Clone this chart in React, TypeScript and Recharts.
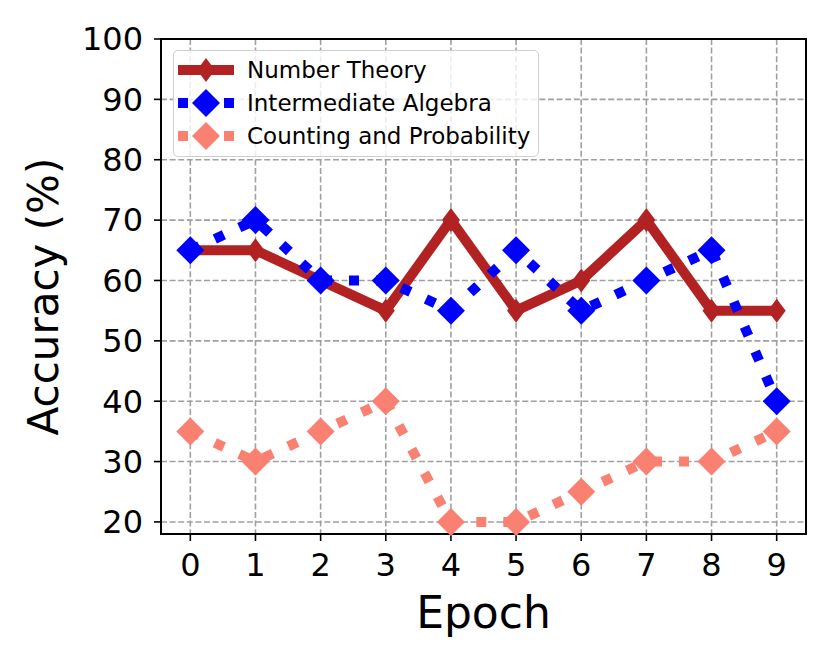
import React from "react";
import {
  CartesianGrid,
  Line,
  LineChart,
  ReferenceArea,
  XAxis,
  YAxis,
} from "recharts";

// accuracy per epoch
const EPOCHS = [0, 1, 2, 3, 4, 5, 6, 7, 8, 9];
const NUMBER_THEORY = [65, 65, 60, 55, 70, 55, 60, 70, 55, 55];
const INTERMEDIATE_ALGEBRA = [65, 70, 60, 60, 55, 65, 55, 60, 65, 40];
const COUNTING_PROBABILITY = [35, 30, 35, 40, 20, 20, 25, 30, 30, 35];

const X_TICKS = [0, 1, 2, 3, 4, 5, 6, 7, 8, 9];
const Y_TICKS = [20, 30, 40, 50, 60, 70, 80, 90, 100];

const FONT = "'DejaVu Sans', Verdana, sans-serif";
const LINE_W = 10;
const DOTTED = "10 17";

type Marker = "thin" | "diamond";

const SERIES: {
  key: string;
  name: string;
  color: string;
  dash?: string;
  marker: Marker;
}[] = [
  { key: "nt", name: "Number Theory", color: "#B22222", marker: "thin" },
  { key: "ia", name: "Intermediate Algebra", color: "#0000FF", dash: DOTTED, marker: "diamond" },
  { key: "cp", name: "Counting and Probability", color: "#FA8072", dash: DOTTED, marker: "diamond" },
];

const data = EPOCHS.map((e, i) => ({
  epoch: e,
  nt: NUMBER_THEORY[i],
  ia: INTERMEDIATE_ALGEBRA[i],
  cp: COUNTING_PROBABILITY[i],
}));

function markerPath(kind: Marker, cx: number, cy: number) {
  // matplotlib 'd' is a narrow diamond, 'D' a square turned 45 degrees
  const hw = kind === "thin" ? 9 : 14;
  const hh = kind === "thin" ? 12 : 14;
  return `M${cx},${cy - hh}L${cx + hw},${cy}L${cx},${cy + hh}L${cx - hw},${cy}Z`;
}

const makeDot = (kind: Marker, color: string) => (props: any) => {
  const { cx, cy, index } = props;
  if (cx == null || cy == null) return <g key={index} />;
  return <path key={index} d={markerPath(kind, cx, cy)} fill={color} stroke="none" />;
};

function LegendBox() {
  return (
    <div
      style={{
        position: "absolute",
        left: 173,
        top: 50,
        width: 366,
        height: 107,
        boxSizing: "border-box",
        border: "1.5px solid #d0d0d0",
        borderRadius: 5,
        background: "rgba(255,255,255,0.8)",
        fontFamily: FONT,
        fontSize: 23,
        color: "#000",
      }}
    >
      {SERIES.map((s, i) => (
        <div
          key={s.key}
          style={{
            position: "absolute",
            left: 0,
            top: 19 + i * 33 - 14,
            height: 28,
            display: "flex",
            alignItems: "center",
          }}
        >
          <svg width={64} height={28} style={{ marginLeft: 3 }}>
            {/* short handle: a dot at each end with the marker in between */}
            <line
              x1={1}
              y1={14}
              x2={57}
              y2={14}
              stroke={s.color}
              strokeWidth={LINE_W}
              strokeDasharray={s.dash ? "10 13" : undefined}
            />
            <path d={markerPath(s.marker, 29, 14)} fill={s.color} />
          </svg>
          <span style={{ marginLeft: 6, whiteSpace: "nowrap" }}>{s.name}</span>
        </div>
      ))}
    </div>
  );
}

export default function App() {
  return (
    <div style={{ position: "absolute", left: 0, top: 0, width: 830, height: 664, background: "#fff" }}>
      <LineChart
        width={830}
        height={664}
        data={data}
        margin={{ top: 39, right: 24, bottom: 0, left: 0 }}
      >
        <CartesianGrid stroke="#a0a0a0" strokeWidth={1.6} strokeDasharray="6 2.6" />
        <ReferenceArea
          x1={-0.45}
          x2={9.45}
          y1={18}
          y2={100}
          fill="none"
          stroke="#000"
          strokeWidth={2}
          ifOverflow="visible"
        />
        <XAxis
          dataKey="epoch"
          type="number"
          domain={[-0.45, 9.45]}
          ticks={X_TICKS}
          interval={0}
          height={130}
          axisLine={{ stroke: "#000", strokeWidth: 2 }}
          tickLine={{ stroke: "#000", strokeWidth: 1.6 }}
          tickSize={7}
          tickMargin={12}
          tick={{ fill: "#000", fontSize: 32, fontFamily: FONT }}
          label={{
            value: "Epoch",
            position: "insideBottom",
            offset: 36,
            fill: "#000",
            fontSize: 44,
            fontFamily: FONT,
          }}
        />
        <YAxis
          type="number"
          domain={[18, 100]}
          ticks={Y_TICKS}
          interval={0}
          width={161}
          axisLine={{ stroke: "#000", strokeWidth: 2 }}
          tickLine={{ stroke: "#000", strokeWidth: 1.6 }}
          tickSize={7}
          tickMargin={11}
          tick={{ fill: "#000", fontSize: 32, fontFamily: FONT }}
          label={{
            value: "Accuracy (%)",
            angle: -90,
            position: "center",
            dx: -37,
            dy: 10,
            fill: "#000",
            fontSize: 42,
            fontFamily: FONT,
          }}
        />
        {SERIES.map((s) => (
          <Line
            key={s.key}
            dataKey={s.key}
            name={s.name}
            type="linear"
            stroke={s.color}
            strokeWidth={LINE_W}
            strokeDasharray={s.dash}
            strokeLinejoin="miter"
            dot={makeDot(s.marker, s.color)}
            activeDot={false}
            isAnimationActive={false}
          />
        ))}
      </LineChart>
      <LegendBox />
    </div>
  );
}
